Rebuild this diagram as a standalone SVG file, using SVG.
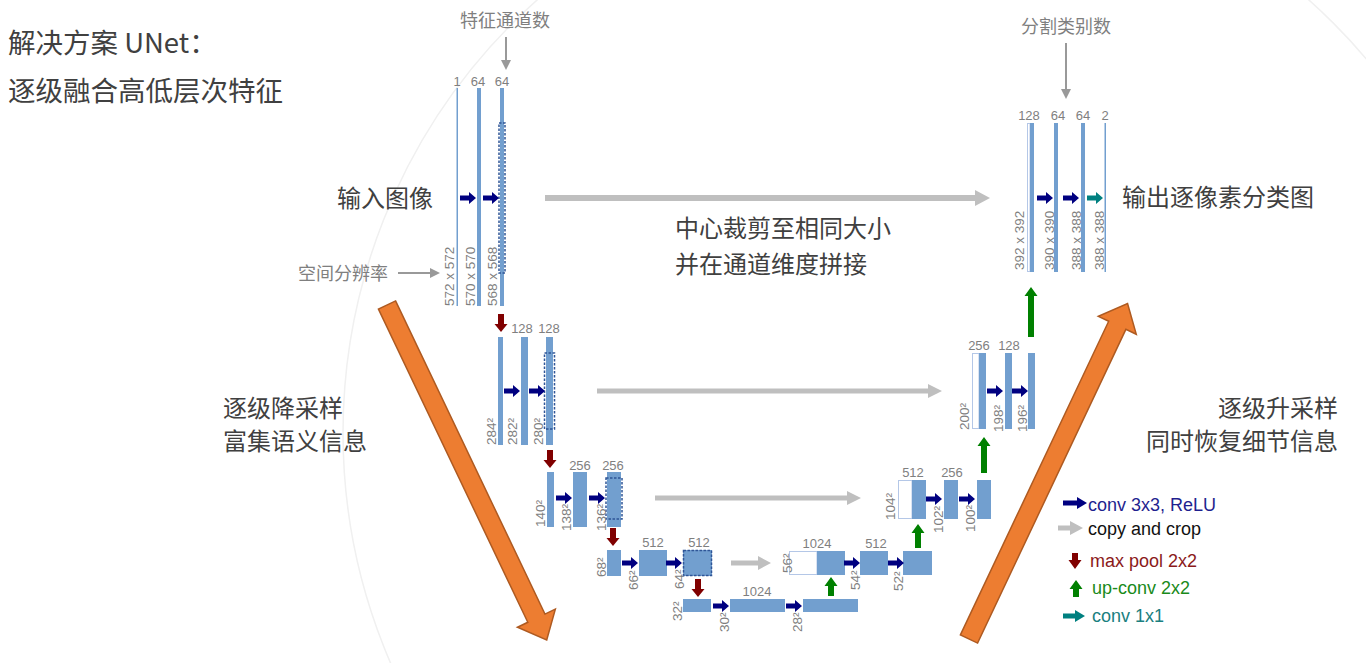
<svg xmlns="http://www.w3.org/2000/svg" xmlns:xlink="http://www.w3.org/1999/xlink" width="1366" height="663" viewBox="0 0 1366 663">
<style>
.bar{fill:#729fcf}
.wbar{fill:#fff;stroke:#b4c7e7;stroke-width:1}
.dash{fill:none;stroke:#2f5597;stroke-width:1.5;stroke-dasharray:2.5 1.5}
.num{font-family:"Liberation Sans",Arial,sans-serif;font-size:13px;fill:#7f7f7f;text-anchor:middle}
.dim{font-family:"Liberation Sans",Arial,sans-serif;font-size:13.5px;fill:#7f7f7f}
.cn{font-family:"Noto Sans CJK SC",sans-serif;font-size:24px;fill:#404040}
.cns{font-family:"Noto Sans CJK SC",sans-serif;font-size:18px;fill:#7f7f7f}
.leg{font-family:"Liberation Sans",Arial,sans-serif;font-size:18px}
.conv{fill:#000080}
.copy{fill:#bfbfbf}
.pool{fill:#800000}
.up{fill:#008000}
.c11{fill:#008080}
.orange{fill:#ed7d31;stroke:#ae5a21;stroke-width:1.5}
.guide{stroke:#999;stroke-width:2;fill:none}
</style>
<defs>
<path id="convA" d="M-16,-2.5 H-7 V-6 L0,0 L-7,6 V2.5 H-16 Z"/>
<path id="poolA" d="M-3,-18 H3 V-8 H6.5 L0,0 L-6.5,-8 H-3 Z"/>
<marker id="gHead" markerWidth="10" markerHeight="10" refX="8" refY="5" orient="auto" markerUnits="userSpaceOnUse"><path d="M0,0 L10,5 L0,10 Z" fill="#999"/></marker>
</defs>
<rect width="1366" height="663" fill="#fff"/>
<circle cx="923" cy="433" r="580" fill="none" stroke="#f0f0f0" stroke-width="1.5"/>

<g id="title">
<text class="cn" x="8" y="53" style="font-size:27.5px">解决方案 UNet：</text>
<text class="cn" x="8" y="101" style="font-size:27.5px">逐级融合高低层次特征</text>
</g>

<g id="notes">
<text class="cns" x="505" y="27" text-anchor="middle">特征通道数</text>
<line class="guide" x1="506" y1="37" x2="506" y2="68" marker-end="url(#gHead)"/>
<text class="cns" x="1066" y="33" text-anchor="middle">分割类别数</text>
<line class="guide" x1="1066" y1="43" x2="1066" y2="97" marker-end="url(#gHead)"/>
<text class="cns" x="298" y="280">空间分辨率</text>
<line class="guide" x1="398" y1="273" x2="438" y2="273" marker-end="url(#gHead)"/>
<text class="cn" x="337" y="207">输入图像</text>
<text class="cn" x="675" y="237">中心裁剪至相同大小</text>
<text class="cn" x="675" y="273">并在通道维度拼接</text>
<text class="cn" x="1122" y="206">输出逐像素分类图</text>
<text class="cn" x="223" y="417">逐级降采样</text>
<text class="cn" x="223" y="450">富集语义信息</text>
<text class="cn" x="1338" y="417" text-anchor="end">逐级升采样</text>
<text class="cn" x="1338" y="450" text-anchor="end">同时恢复细节信息</text>
</g>

<g id="trend-arrows">
<polygon class="orange" transform="translate(387,305) rotate(64.5)" points="0,-9.5 347,-9.5 347,-21 371,0 347,21 347,9.5 0,9.5"/>
<polygon class="orange" transform="translate(969,639) rotate(-64.7)" points="0,-9.5 347,-9.5 347,-21 371,0 347,21 347,9.5 0,9.5"/>
</g>

<g id="enc1">
<rect class="bar" x="456.5" y="88" width="1.5" height="218"/>
<rect class="bar" x="477" y="88" width="4" height="218"/>
<rect class="bar" x="500" y="88" width="4" height="218"/>
<rect class="dash" x="499" y="123" width="6" height="150"/>
<text class="num" x="457" y="86">1</text>
<text class="num" x="478" y="86">64</text>
<text class="num" x="502" y="86">64</text>
<text class="dim" transform="translate(454,306) rotate(-90)">572 x 572</text>
<text class="dim" transform="translate(475,306) rotate(-90)">570 x 570</text>
<text class="dim" transform="translate(497,306) rotate(-90)">568 x 568</text>
</g>

<g id="enc2">
<rect class="bar" x="498" y="337" width="5" height="108"/>
<rect class="bar" x="521" y="337" width="7" height="108"/>
<rect class="bar" x="546" y="337" width="7" height="108"/>
<rect class="dash" x="544.5" y="353" width="10" height="76"/>
<text class="num" x="522" y="333">128</text>
<text class="num" x="549" y="333">128</text>
<text class="dim" transform="translate(496,445) rotate(-90)">284²</text>
<text class="dim" transform="translate(517,445) rotate(-90)">282²</text>
<text class="dim" transform="translate(543,445) rotate(-90)">280²</text>
</g>

<g id="enc3">
<rect class="bar" x="547" y="472" width="7" height="55"/>
<rect class="bar" x="573" y="472" width="14" height="55"/>
<rect class="bar" x="607" y="472" width="14" height="55"/>
<rect class="dash" x="606" y="478" width="16" height="41"/>
<text class="num" x="580" y="470">256</text>
<text class="num" x="613" y="470">256</text>
<text class="dim" transform="translate(545,527) rotate(-90)">140²</text>
<text class="dim" transform="translate(571,531) rotate(-90)">138²</text>
<text class="dim" transform="translate(606,531) rotate(-90)">136²</text>
</g>

<g id="enc4">
<rect class="bar" x="607" y="550" width="14" height="26"/>
<rect class="bar" x="639" y="550" width="28" height="26"/>
<rect class="bar" x="683" y="550" width="29" height="26"/>
<rect class="dash" x="683.5" y="550.5" width="28" height="25"/>
<text class="num" x="653" y="547">512</text>
<text class="num" x="699" y="547">512</text>
<text class="dim" transform="translate(606,577) rotate(-90)">68²</text>
<text class="dim" transform="translate(638,590) rotate(-90)">66²</text>
<text class="dim" transform="translate(684,589) rotate(-90)">64²</text>
</g>

<g id="bottleneck">
<rect class="bar" x="683" y="599" width="28" height="13"/>
<rect class="bar" x="730" y="599" width="55" height="13"/>
<rect class="bar" x="803" y="599" width="55" height="13"/>
<text class="num" x="757" y="596">1024</text>
<text class="dim" transform="translate(682,621) rotate(-90)">32²</text>
<text class="dim" transform="translate(729,632) rotate(-90)">30²</text>
<text class="dim" transform="translate(802,632) rotate(-90)">28²</text>
</g>

<g id="dec4">
<rect class="wbar" x="789.5" y="551.5" width="27.5" height="23"/>
<rect class="bar" x="817" y="551" width="28" height="24"/>
<rect class="bar" x="860" y="551" width="28" height="24"/>
<rect class="bar" x="903" y="551" width="29" height="24"/>
<text class="num" x="817" y="548">1024</text>
<text class="num" x="876" y="548">512</text>
<text class="dim" transform="translate(792,573) rotate(-90)">56²</text>
<text class="dim" transform="translate(860,590) rotate(-90)">54²</text>
<text class="dim" transform="translate(903,591) rotate(-90)">52²</text>
</g>

<g id="dec3">
<rect class="wbar" x="898.5" y="480.5" width="13.5" height="38"/>
<rect class="bar" x="912" y="480" width="14" height="39"/>
<rect class="bar" x="944" y="480" width="14" height="39"/>
<rect class="bar" x="977" y="480" width="14" height="39"/>
<text class="num" x="913" y="477">512</text>
<text class="num" x="952" y="477">256</text>
<text class="dim" transform="translate(895,520) rotate(-90)">104²</text>
<text class="dim" transform="translate(943,533) rotate(-90)">102²</text>
<text class="dim" transform="translate(975,532) rotate(-90)">100²</text>
</g>

<g id="dec2">
<rect class="wbar" x="972.5" y="353.5" width="6.5" height="75"/>
<rect class="bar" x="979" y="353" width="7" height="76"/>
<rect class="bar" x="1005" y="353" width="7" height="76"/>
<rect class="bar" x="1028" y="353" width="7" height="76"/>
<text class="num" x="979" y="350">256</text>
<text class="num" x="1009" y="350">128</text>
<text class="dim" transform="translate(969,430) rotate(-90)">200²</text>
<text class="dim" transform="translate(1003,432) rotate(-90)">198²</text>
<text class="dim" transform="translate(1027,432) rotate(-90)">196²</text>
</g>

<g id="dec1">
<rect class="wbar" x="1027.5" y="123.5" width="2.5" height="148"/>
<rect class="bar" x="1030" y="123" width="4" height="149"/>
<rect class="bar" x="1054" y="123" width="4" height="149"/>
<rect class="bar" x="1081" y="123" width="4" height="149"/>
<rect class="bar" x="1104.5" y="123" width="1.5" height="149"/>
<text class="num" x="1029" y="120">128</text>
<text class="num" x="1058" y="120">64</text>
<text class="num" x="1083" y="120">64</text>
<text class="num" x="1105" y="120">2</text>
<text class="dim" transform="translate(1024,270) rotate(-90)">392 x 392</text>
<text class="dim" transform="translate(1054,270) rotate(-90)">390 x 390</text>
<text class="dim" transform="translate(1081,270) rotate(-90)">388 x 388</text>
<text class="dim" transform="translate(1104,270) rotate(-90)">388 x 388</text>
</g>

<g id="connectors">
<use href="#convA" xlink:href="#convA" class="conv" x="476" y="198"/>
<use href="#convA" xlink:href="#convA" class="conv" x="499" y="198"/>
<use href="#convA" xlink:href="#convA" class="conv" x="520" y="391"/>
<use href="#convA" xlink:href="#convA" class="conv" x="545" y="391"/>
<use href="#convA" xlink:href="#convA" class="conv" x="572" y="498"/>
<use href="#convA" xlink:href="#convA" class="conv" x="605" y="498"/>
<use href="#convA" xlink:href="#convA" class="conv" x="638" y="563"/>
<use href="#convA" xlink:href="#convA" class="conv" x="682" y="563"/>
<use href="#convA" xlink:href="#convA" class="conv" x="729" y="606"/>
<use href="#convA" xlink:href="#convA" class="conv" x="802" y="606"/>
<use href="#convA" xlink:href="#convA" class="conv" x="860" y="563"/>
<use href="#convA" xlink:href="#convA" class="conv" x="904" y="563"/>
<use href="#convA" xlink:href="#convA" class="conv" x="942" y="499"/>
<use href="#convA" xlink:href="#convA" class="conv" x="975" y="499"/>
<use href="#convA" xlink:href="#convA" class="conv" x="1003" y="391"/>
<use href="#convA" xlink:href="#convA" class="conv" x="1028" y="391"/>
<use href="#convA" xlink:href="#convA" class="conv" x="1053" y="198"/>
<use href="#convA" xlink:href="#convA" class="conv" x="1079" y="198"/>
<use href="#convA" xlink:href="#convA" class="c11" x="1103" y="198"/>

<use href="#poolA" xlink:href="#poolA" class="pool" x="501" y="332"/>
<use href="#poolA" xlink:href="#poolA" class="pool" x="550" y="468"/>
<use href="#poolA" xlink:href="#poolA" class="pool" x="613" y="546"/>
<use href="#poolA" xlink:href="#poolA" class="pool" x="698" y="597"/>

<path class="up" d="M828,596 V586 H824.5 L831,577 L837.5,586 H834 V596 Z"/>
<path class="up" d="M915,548 V533 H911.5 L918,524 L924.5,533 H921 V548 Z"/>
<path class="up" d="M981,473 V446 H977.5 L984,437 L990.5,446 H987 V473 Z"/>
<path class="up" d="M1028,337 V296 H1024.5 L1031,287 L1037.5,296 H1034 V337 Z"/>

<path class="copy" d="M545,195 H975 V190 L990,198 L975,206 V201 H545 Z"/>
<path class="copy" d="M597,388.5 H928 V384 L942,391 L928,398 V393.5 H597 Z"/>
<path class="copy" d="M655,495.5 H847 V491 L861,498 L847,505 V500.5 H655 Z"/>
<path class="copy" d="M731,560.5 H758 V556 L771,563 L758,570 V565.5 H731 Z"/>
</g>

<g id="legend">
<path class="conv" d="M1063,500.5 H1077 V497 L1087,503 L1077,509 V505.5 H1063 Z"/>
<text class="leg" x="1088" y="511" fill="#1f1f8f">conv 3x3, ReLU</text>
<path class="copy" d="M1058,525.5 H1070 V521 L1083,528 L1070,535 V530.5 H1058 Z"/>
<text class="leg" x="1088" y="535" fill="#111">copy and crop</text>
<path class="pool" d="M1072,553 H1078 V560 H1081.5 L1075,569 L1068.5,560 H1072 Z"/>
<text class="leg" x="1090" y="567" fill="#8b1a1a">max pool 2x2</text>
<path class="up" d="M1073,597 V589 H1069.5 L1076,580 L1082.5,589 H1079 V597 Z"/>
<text class="leg" x="1092" y="594" fill="#1a8a1a">up-conv 2x2</text>
<path class="c11" d="M1063,613.5 H1075 V610 L1085,616 L1075,622 V618.5 H1063 Z"/>
<text class="leg" x="1092" y="622" fill="#1a8080">conv 1x1</text>
</g>
</svg>
